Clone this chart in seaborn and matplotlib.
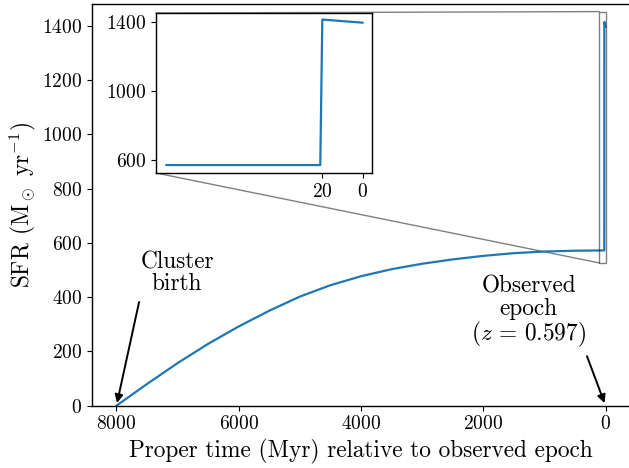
import matplotlib
matplotlib.use("Agg")
import matplotlib.pyplot as plt
from matplotlib.patches import ConnectionPatch
import seaborn as sns
import pandas as pd

# ---- data ----
time_myr = [8000, 7500, 7000, 6500, 6000, 5500, 5000, 4500, 4000, 3500,
            3000, 2500, 2000, 1500, 1000, 500, 97, 21, 20, 0]
sfr = [0, 80, 157, 228, 292, 350, 402, 444, 477, 503,
       523, 539, 552, 562, 568, 571, 572, 572, 1414, 1396]
main_xticks = [8000, 6000, 4000, 2000, 0]
main_yticks = [0, 200, 400, 600, 800, 1000, 1200, 1400]
inset_xticks = [20, 0]
inset_yticks = [600, 1000, 1400]
inset_tmax = 100

sns.set_style("ticks")
plt.rcParams.update({
    "font.family": ["cmr10", "DejaVu Serif"],
    "mathtext.fontset": "cm",
    "axes.unicode_minus": False,
    "axes.formatter.use_mathtext": True,
    "axes.edgecolor": "black",
    "xtick.color": "black",
    "ytick.color": "black",
    "text.color": "black",
    "axes.labelcolor": "black",
    "xtick.labelsize": 14,
    "ytick.labelsize": 14,
    "axes.linewidth": 1.0,
})

df = pd.DataFrame({"t": time_myr, "sfr": sfr})
df_in = df[df["t"] <= inset_tmax]

fig = plt.figure(figsize=(6.29, 4.68), dpi=100)
W = 538.0
ax = fig.add_axes([92 / 629, (468 - 405.7) / 468, W / 629, 401.7 / 468])
for s in ax.spines.values():
    s.set_visible(True)

sns.lineplot(data=df, x="t", y="sfr", ax=ax, color="#1f77b4", lw=1.6,
             sort=False, estimator=None)
ax.set_xlim(8400, -400)
ax.set_ylim(0, 1480)
ax.set_xticks(main_xticks)
ax.set_yticks(main_yticks)
ax.set_xlabel("Proper time (Myr) relative to observed epoch", fontsize=16.8, labelpad=4)
ax.set_ylabel(r"SFR (M$_\odot$ yr$^{-1}$)", fontsize=16.8, labelpad=3)

# annotations
arrow = dict(arrowstyle="-|>", color="black", lw=1.4, mutation_scale=12)
ax.annotate("", xy=(8000, 0), xytext=(7620, 392), arrowprops=arrow)
ax.annotate("", xy=(0, 0), xytext=(320, 192), arrowprops=arrow)
ax.text(7009, 488, "Cluster\nbirth", ha="center", va="center",
        fontsize=16.8, linespacing=1.0)
ax.text(1256, 344, "Observed\nepoch\n($z\\,=\\,0.597$)", ha="center", va="center",
        fontsize=16.8, linespacing=1.0)

# inset
axins = ax.inset_axes([(156 - 92) / W, (405.7 - 173) / 401.7,
                       216 / W, 160 / 401.7])
sns.lineplot(data=df_in, x="t", y="sfr", ax=axins, color="#1f77b4", lw=1.6,
             sort=False, estimator=None)
ins_xlim = (102, -4.5)
ins_ylim = (526, 1452)
axins.set_xlim(*ins_xlim)
axins.set_ylim(*ins_ylim)
axins.set_xticks(inset_xticks)
axins.set_yticks(inset_yticks)
axins.set_xlabel("")
axins.set_ylabel("")
for s in axins.spines.values():
    s.set_visible(True)
    s.set_color("black")

# zoom rectangle and connectors
ax.indicate_inset([ins_xlim[1], ins_ylim[0], ins_xlim[0] - ins_xlim[1],
                   ins_ylim[1] - ins_ylim[0]],
                  edgecolor="black", alpha=0.5, lw=1.0)
for ey, yv in [(0, ins_ylim[0]), (1, ins_ylim[1])]:
    cp = ConnectionPatch(xyA=(0, ey), coordsA=axins.transAxes,
                         xyB=(ins_xlim[0], yv), coordsB=ax.transData,
                         color="black", alpha=0.5, lw=1.0, zorder=1)
    cp.set_clip_on(False)
    ax.add_artist(cp)

fig.savefig("out.png", dpi=100)
